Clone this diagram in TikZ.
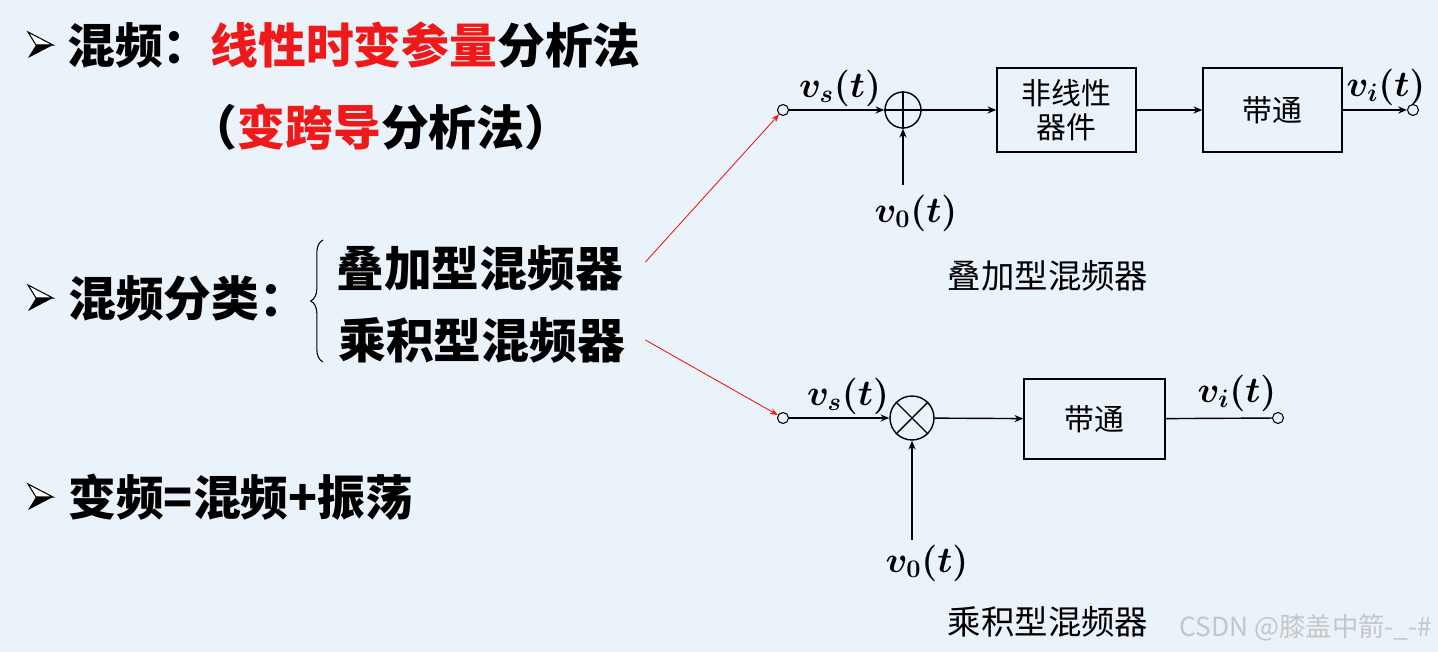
\documentclass[tikz,border=0pt]{standalone}
\usepackage{fontspec}
\usepackage{amsmath,bm}
\newfontfamily\cjk{Noto Sans CJK SC}
\usetikzlibrary{arrows.meta,decorations.pathreplacing}
\definecolor{bg}{RGB}{234,242,250}
\definecolor{myred}{RGB}{240,25,25}
\begin{document}
\begin{tikzpicture}[x=0.02cm,y=-0.02cm,
  big/.style={font=\cjk\bfseries\fontsize{27.2}{30}\selectfont, inner sep=0},
  boxt/.style={font=\cjk\fontsize{17}{19}\selectfont, align=center},
  captext/.style={font=\cjk\fontsize{19}{22}\selectfont, inner sep=0},
  lab/.style={font=\boldmath\fontsize{19.5}{22}\selectfont, inner sep=0},
  blk/.style={draw, line width=0.8pt, minimum width=2.78cm, minimum height=1.68cm, boxt},
  term/.style={draw, circle, fill=bg, line width=0.6pt, minimum size=0.22cm, inner sep=0},
  junc/.style={draw, circle, line width=0.8pt, inner sep=0},
  arr/.style={line width=0.8pt, -{Stealth[length=5pt,width=4pt]}},
  plain/.style={line width=0.8pt},
  redarr/.style={draw=myred, line width=0.5pt, -{Stealth[length=4.5pt,width=3.5pt]}, myred},
  arrowbul/.pic={
    \filldraw[fill=white, draw=black, line width=0.6pt] (-12,-13) -- (13,0) -- (-4,0) -- cycle;
    \fill[black] (-4,0) -- (13,0) -- (-12,13) -- cycle;
  }
]
\useasboundingbox (0,0) rectangle (1438,652);
\fill[bg] (0,0) rectangle (1438,652);

% left text
\pic at (40,45) {arrowbul};
\pic at (40,298) {arrowbul};
\pic at (40,497) {arrowbul};
\node[big] (t1) at (354,45) {混频：\textcolor{myred}{线性时变参量}分析法};
\node[big] (t2) at (381,127) {（\textcolor{myred}{变跨导}分析法）};
\node[big, anchor=west] (t3) at (68,298) {混频分类：};
\node[big, anchor=west] (a1) at (336,268) {叠加型混频器};
\node[big, anchor=west] (a2) at (338,340) {乘积型混频器};
\node[big, anchor=west] (t4) at (68,497) {变频=混频+振荡};
\coordinate (brb) at (323,362);
\coordinate (brt) at (323,240);
\draw[line width=0.6pt, decorate, decoration={brace, amplitude=7pt}] (brb) -- (brt);

% top diagram
\node[term] (in1) at (783,110) {};
\node[junc, minimum size=0.72cm] (sum) at (903,110) {};
\draw[plain] (sum.north) -- (sum.south) (sum.west) -- (sum.east);
\node[blk] (nl) at (1066.5,110) {非线性\\器件};
\node[blk] (bp1) at (1272.5,110) {带通};
\node[term] (out1) at (1413,110) {};
\coordinate (v0a) at (903,185);
\draw[arr] (in1) -- (sum);
\draw[arr] (v0a) -- (sum);
\draw[arr] (sum) -- (nl);
\draw[arr] (nl) -- (bp1);
\draw[arr] (bp1) -- (out1);
\node[lab] (vs1) at (840,88) {$\bm{v_s(t)}$};
\node[lab] (vo1) at (916,213) {$\bm{v_0(t)}$};
\node[lab] (vi1) at (1386,87) {$\bm{v_i(t)}$};
\node[captext] (c1) at (1048,276) {叠加型混频器};

% bottom diagram
\node[term] (in2) at (783,418) {};
\node[junc, minimum size=0.88cm] (mul) at (912,418) {};
\draw[plain] (mul.north west) -- (mul.south east) (mul.south west) -- (mul.north east);
\node[blk, minimum width=2.82cm, minimum height=1.6cm] (bp2) at (1094.5,419) {带通};
\node[term] (out2) at (1278,418) {};
\coordinate (v0b) at (912,540);
\draw[arr] (in2) -- (mul);
\draw[arr] (v0b) -- (mul);
\draw[arr] (mul) -- (bp2);
\draw[plain] (bp2) -- (out2);
\node[lab] (vs2) at (848,396) {$\bm{v_s(t)}$};
\node[lab] (vo2) at (927,563) {$\bm{v_0(t)}$};
\node[lab] (vi2) at (1237,393) {$\bm{v_i(t)}$};
\node[captext] (c2) at (1048,622) {乘积型混频器};

% red pointers
\draw[redarr] ([xshift=0.44cm,yshift=0.12cm]a1.east) -- (in1);
\draw[redarr] ([xshift=0.4cm]a2.east) -- (in2);

% watermark
\node[font=\cjk\fontsize{15}{18}\selectfont, text=gray!45, inner sep=0] (wm) at (1306,628) {CSDN @膝盖中箭-\_-\#};
\end{tikzpicture}
\end{document}
